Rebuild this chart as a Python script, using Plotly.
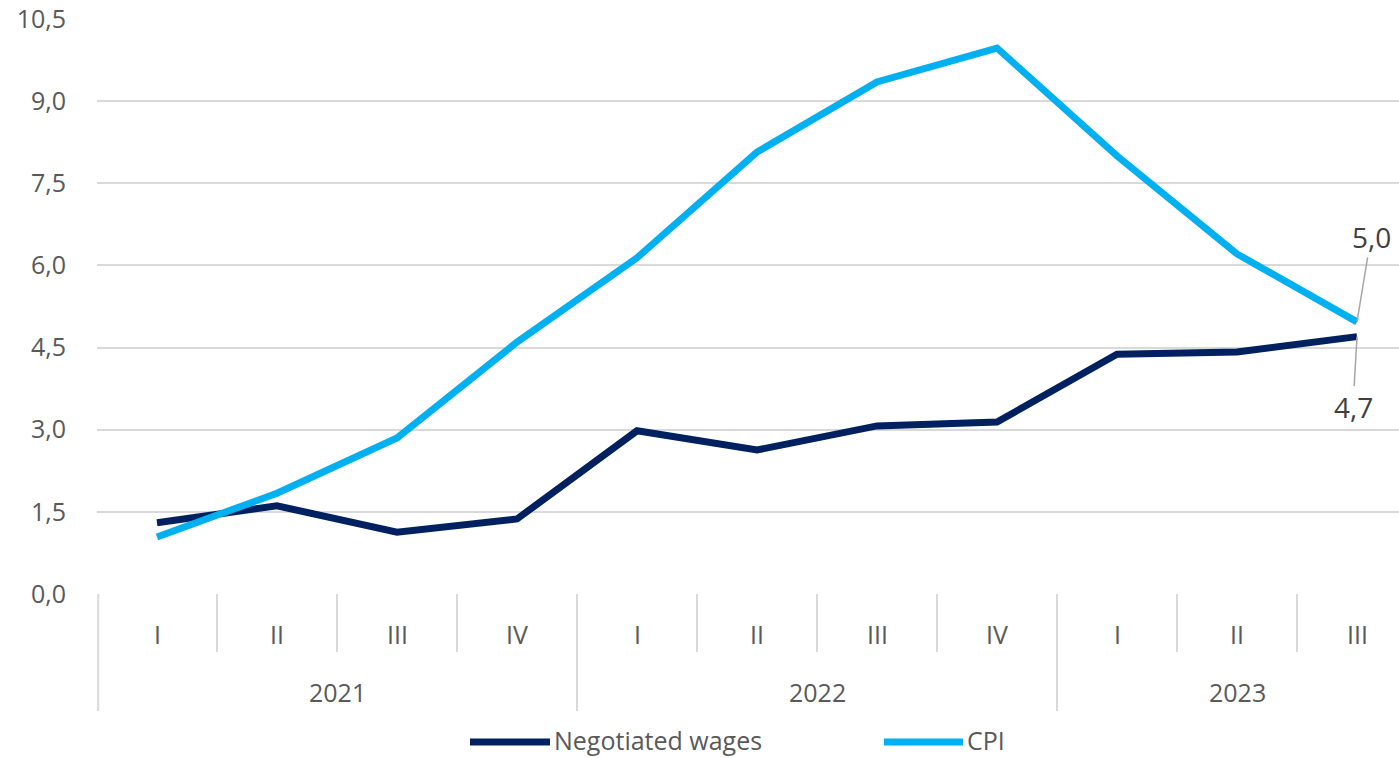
import plotly.graph_objects as go

quarters = ["I", "II", "III", "IV", "I", "II", "III", "IV", "I", "II", "III"]
years = ["2021", "2022", "2023"]
year_quarter_counts = [4, 4, 3]
wages = [1.30, 1.61, 1.13, 1.37, 2.98, 2.63, 3.07, 3.14, 4.38, 4.42, 4.70]
cpi = [1.04, 1.84, 2.85, 4.60, 6.14, 8.07, 9.35, 9.97, 8.00, 6.21, 4.97]
series_names = ["Negotiated wages", "CPI"]
colors = ["#002060", "#00B0F0"]

FONT = "Open Sans"
TXT = "#595959"
GRID = "#D9D9D9"

x = list(range(len(quarters)))
fig = go.Figure()
for name, vals, col in zip(series_names, [wages, cpi], colors):
    fig.add_trace(go.Scatter(x=x, y=vals, mode="lines", name=name,
                             line=dict(color=col, width=7), showlegend=False))

shapes = []
annotations = []
plot_h = 575.0
# quarter labels and dividers
for i, q in enumerate(quarters):
    annotations.append(dict(x=i, y=0, xref="x", yref="paper", text=q, showarrow=False,
                            yanchor="middle", yshift=-40,
                            font=dict(family=FONT, size=25, color=TXT)))
    if i < len(quarters) - 1:
        shapes.append(dict(type="line", xref="x", yref="paper", x0=i + 0.5, x1=i + 0.5,
                           y0=0, y1=-58 / plot_h, line=dict(color=GRID, width=2)))
# year labels and boundaries
start = 0
for yr, n in zip(years, year_quarter_counts):
    b = start - 0.5
    shapes.append(dict(type="line", xref="x", yref="paper", x0=max(b, -0.49), x1=max(b, -0.49),
                       y0=0, y1=-117 / plot_h, line=dict(color=GRID, width=2)))
    annotations.append(dict(x=start + (n - 1) / 2, y=0, xref="x", yref="paper", text=yr,
                            showarrow=False, yanchor="middle", yshift=-98,
                            font=dict(family=FONT, size=25, color=TXT)))
    start += n

# data labels
annotations.append(dict(x=x[-1], y=cpi[-1], xref="x", yref="y", text="5,0", showarrow=True,
                        arrowhead=0, arrowwidth=1.5, arrowcolor="#A6A6A6", ax=14, ay=-85,
                        font=dict(family=FONT, size=28, color="#404040")))
annotations.append(dict(x=x[-1], y=wages[-1], xref="x", yref="y", text="4,7", showarrow=True,
                        arrowhead=0, arrowwidth=1.5, arrowcolor="#A6A6A6", ax=-4, ay=70,
                        font=dict(family=FONT, size=28, color="#404040")))

# manual legend (pixel positions relative to the plot area)
W = 1302.0
def px(v):
    return (v - 97) / W
def py(v):
    return (594 - v) / plot_h
for (x0, x1), name, col in zip([(470, 550), (884, 963)], series_names, colors):
    shapes.append(dict(type="line", xref="paper", yref="paper", x0=px(x0), x1=px(x1),
                       y0=py(742), y1=py(742), line=dict(color=col, width=7)))
    annotations.append(dict(x=px(x1 + 2), y=py(740), xref="paper", yref="paper", text=name,
                            showarrow=False, xanchor="left", yanchor="middle",
                            font=dict(family=FONT, size=25, color=TXT)))

fig.update_layout(
    width=1399, height=758,
    margin=dict(l=97, r=0, t=19, b=164, autoexpand=False),
    plot_bgcolor="white", paper_bgcolor="white",
    separators=",.",
    showlegend=False,
    hovermode=False,
    shapes=shapes, annotations=annotations,
    xaxis=dict(range=[-0.5, 10.35], showticklabels=False, showgrid=False, zeroline=False,
               showline=False, ticks="", automargin=False),
    yaxis=dict(range=[0, 10.5], tick0=0, dtick=1.5, tickformat=".1f", showgrid=True,
               gridcolor=GRID, gridwidth=2, zeroline=False, showline=False,
               ticklabelstandoff=30, ticklabeloverflow="allow", automargin=False,
               tickfont=dict(family=FONT, size=25, color=TXT)),
)
fig.write_html("out.html", config={"displayModeBar": False},
               post_script="document.body.style.margin='0px';document.body.style.overflow='hidden';")
